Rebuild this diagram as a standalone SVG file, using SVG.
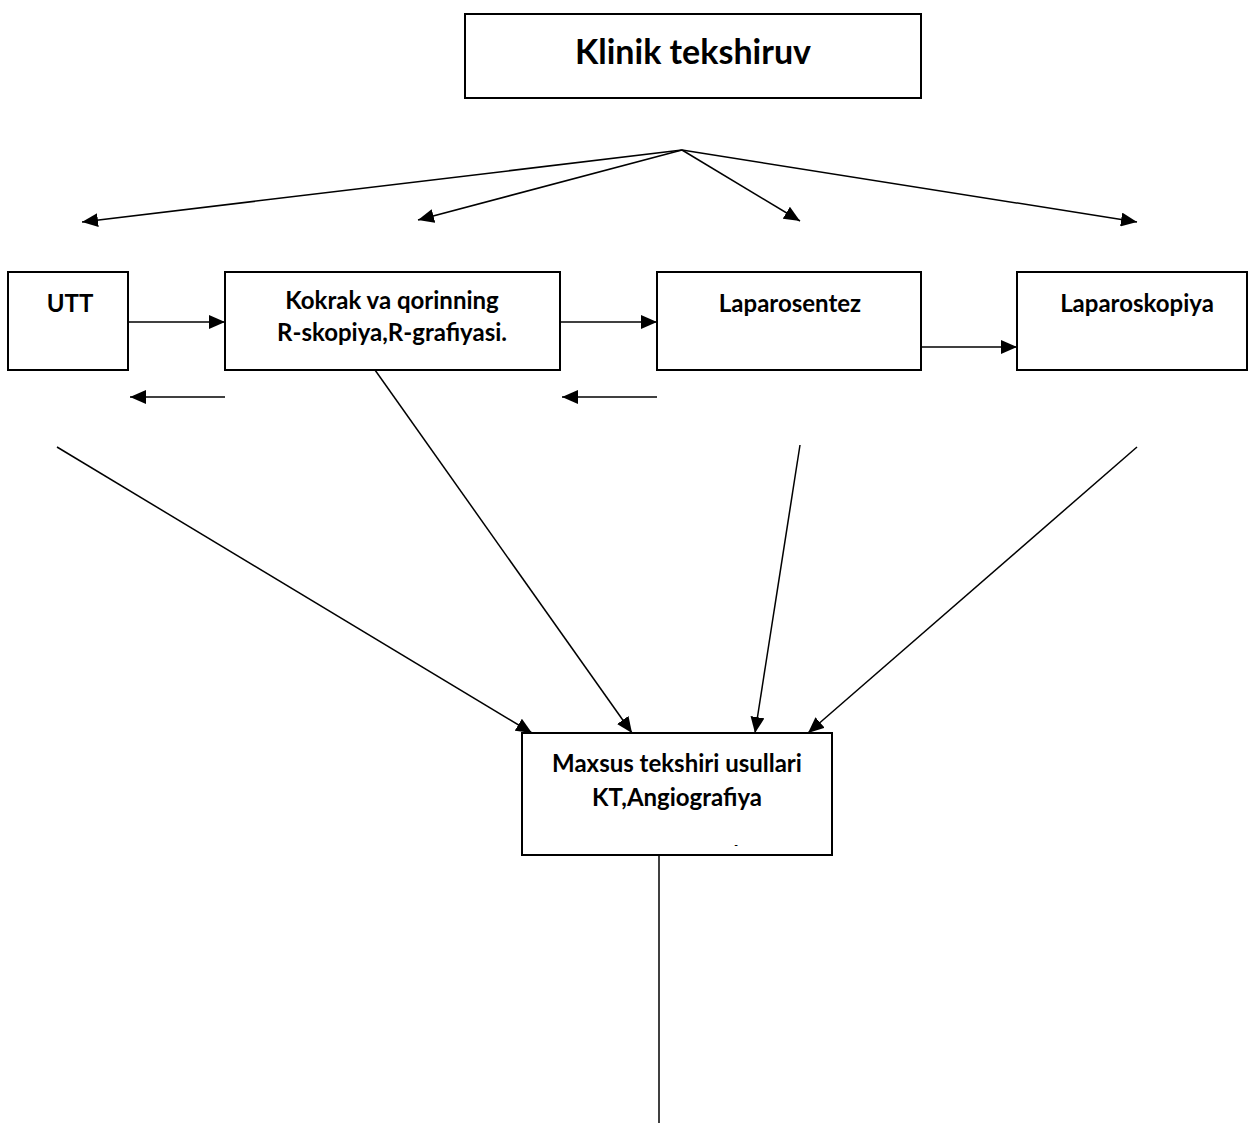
<svg xmlns="http://www.w3.org/2000/svg" width="1249" height="1123" viewBox="0 0 1249 1123">
<style>
.box{fill:#fff;stroke:#000;stroke-width:2}
.t{font-family:Lato,"Liberation Sans",sans-serif;font-weight:bold;fill:#000;text-anchor:middle}
.s{font-size:24px}
.c{stroke:#000;stroke-width:1.5;fill:none}
</style>
<defs>
<marker id="ah" markerUnits="userSpaceOnUse" markerWidth="18" markerHeight="14" refX="16" refY="7" orient="auto">
<path d="M0,0 L16,7 L0,14 Z" fill="#000"/>
</marker>
</defs>
<rect width="1249" height="1123" fill="#fff"/>
<g id="n-klinik"><rect class="box" x="465" y="14" width="456" height="84"/><text class="t" x="693" y="64" font-size="34">Klinik tekshiruv</text></g>
<g id="n-utt"><rect class="box" x="8" y="272" width="120" height="98"/><text class="t s" x="70" y="312">UTT</text></g>
<g id="n-kokrak"><rect class="box" x="225" y="272" width="335" height="98"/><text class="t s" x="392" y="309">Kokrak va qorinning</text><text class="t s" x="392" y="341">R-skopiya,R-grafiyasi.</text></g>
<g id="n-laparosentez"><rect class="box" x="657" y="272" width="264" height="98"/><text class="t s" x="790" y="312">Laparosentez</text></g>
<g id="n-laparoskopiya"><rect class="box" x="1017" y="272" width="230" height="98"/><text class="t s" x="1137" y="312">Laparoskopiya</text></g>
<g id="n-maxsus"><rect class="box" x="522" y="733" width="310" height="122"/><text class="t s" x="677" y="772">Maxsus tekshiri usullari</text><text class="t s" x="677" y="806">KT,Angiografiya</text><text class="t" x="736" y="848" font-size="10">-</text></g>
<g id="connectors">
<line class="c" x1="682" y1="150" x2="82" y2="222" marker-end="url(#ah)"/>
<line class="c" x1="682" y1="150" x2="418" y2="220" marker-end="url(#ah)"/>
<line class="c" x1="682" y1="150" x2="800" y2="221" marker-end="url(#ah)"/>
<line class="c" x1="682" y1="150" x2="1137" y2="222" marker-end="url(#ah)"/>
<line class="c" x1="128" y1="322" x2="225" y2="322" marker-end="url(#ah)"/>
<line class="c" x1="560" y1="322" x2="657" y2="322" marker-end="url(#ah)"/>
<line class="c" x1="921" y1="347" x2="1017" y2="347" marker-end="url(#ah)"/>
<line class="c" x1="225" y1="397" x2="130" y2="397" marker-end="url(#ah)"/>
<line class="c" x1="657" y1="397" x2="562" y2="397" marker-end="url(#ah)"/>
<line class="c" x1="57" y1="447" x2="532" y2="733" marker-end="url(#ah)"/>
<line class="c" x1="375" y1="370" x2="632" y2="733" marker-end="url(#ah)"/>
<line class="c" x1="800" y1="445" x2="755" y2="733" marker-end="url(#ah)"/>
<line class="c" x1="1137" y1="447" x2="808" y2="733" marker-end="url(#ah)"/>
<line class="c" x1="659" y1="855" x2="659" y2="1123"/>
</g>
</svg>
